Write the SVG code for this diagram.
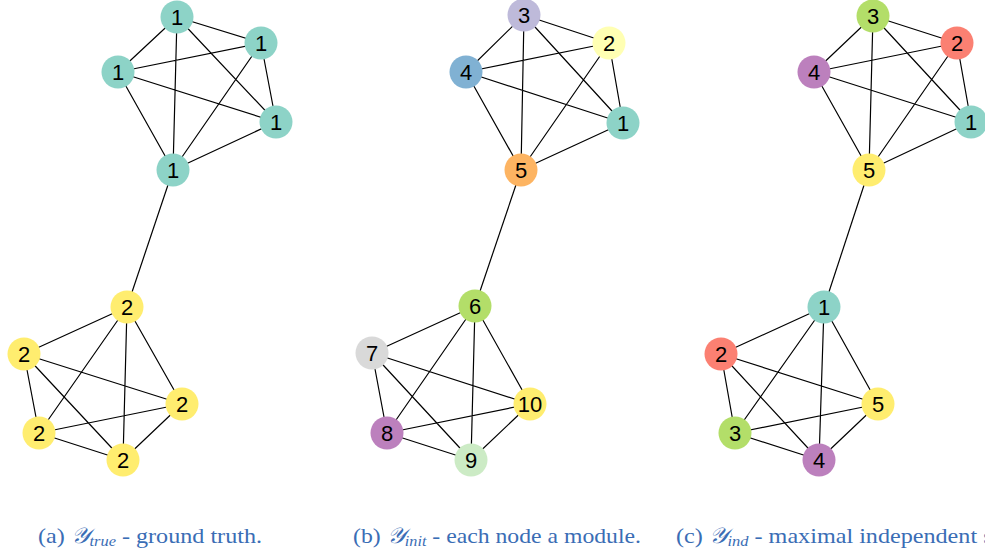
<svg xmlns="http://www.w3.org/2000/svg" width="985" height="553" viewBox="0 0 985 553">
<style>
.e{stroke:#000;stroke-width:1.2;fill:none}
.n text{font-family:"Liberation Sans",Arial,sans-serif;font-size:22px;text-anchor:middle;dominant-baseline:central;fill:#000}
.cap{font-family:"Liberation Serif","DejaVu Serif",serif;font-size:22px;fill:#3a6db5}
.sub{font-style:italic;font-size:15px}
</style>
<rect width="985" height="553" fill="#fff"/>
<g id="connectors" class="e">
<path d="M177,17L261,43M177,17L118,72M177,17L173,170M177,17L276,122M261,43L118,72M261,43L276,122M261,43L173,170M118,72L276,122M118,72L173,170M276,122L173,170"/>
<path d="M173,170L127,307"/>
<path d="M127,307L24,354M127,307L39,433M127,307L123,460M127,307L182,404M24,354L182,404M24,354L39,433M24,354L123,460M182,404L39,433M182,404L123,460M39,433L123,460"/>
<path d="M524,15L609,43M524,15L466,72M524,15L521,170M524,15L623,123M609,43L466,72M609,43L623,123M609,43L521,170M466,72L623,123M466,72L521,170M623,123L521,170"/>
<path d="M521,170L475,306"/>
<path d="M475,306L372,353M475,306L387,433M475,306L471,460M475,306L530,404M372,353L530,404M372,353L387,433M372,353L471,460M530,404L387,433M530,404L471,460M387,433L471,460"/>
<path d="M873,16L957,43M873,16L814,72M873,16L869,170M873,16L971,122M957,43L814,72M957,43L971,122M957,43L869,170M814,72L971,122M814,72L869,170M971,122L869,170"/>
<path d="M869,170L824,307"/>
<path d="M824,307L721,354M824,307L735,433M824,307L819,460M824,307L878,404M721,354L878,404M721,354L735,433M721,354L819,460M878,404L735,433M878,404L819,460M735,433L819,460"/>
</g>
<g id="a1" class="n"><circle cx="177" cy="17" r="16.5" fill="#8dd3c7"/><text x="177" y="17">1</text></g>
<g id="a2" class="n"><circle cx="261" cy="43" r="16.5" fill="#8dd3c7"/><text x="261" y="43">1</text></g>
<g id="a3" class="n"><circle cx="118" cy="72" r="16.5" fill="#8dd3c7"/><text x="118" y="72">1</text></g>
<g id="a4" class="n"><circle cx="276" cy="122" r="16.5" fill="#8dd3c7"/><text x="276" y="122">1</text></g>
<g id="a5" class="n"><circle cx="173" cy="170" r="16.5" fill="#8dd3c7"/><text x="173" y="170">1</text></g>
<g id="a6" class="n"><circle cx="127" cy="307" r="16.5" fill="#ffed6f"/><text x="127" y="307">2</text></g>
<g id="a7" class="n"><circle cx="24" cy="354" r="16.5" fill="#ffed6f"/><text x="24" y="354">2</text></g>
<g id="a8" class="n"><circle cx="182" cy="404" r="16.5" fill="#ffed6f"/><text x="182" y="404">2</text></g>
<g id="a9" class="n"><circle cx="39" cy="433" r="16.5" fill="#ffed6f"/><text x="39" y="433">2</text></g>
<g id="a10" class="n"><circle cx="123" cy="460" r="16.5" fill="#ffed6f"/><text x="123" y="460">2</text></g>

<g id="b3" class="n"><circle cx="524" cy="15" r="16.5" fill="#bebada"/><text x="524" y="15">3</text></g>
<g id="b2" class="n"><circle cx="609" cy="43" r="16.5" fill="#ffffb3"/><text x="609" y="43">2</text></g>
<g id="b4" class="n"><circle cx="466" cy="72" r="16.5" fill="#80b1d3"/><text x="466" y="72">4</text></g>
<g id="b1" class="n"><circle cx="623" cy="123" r="16.5" fill="#8dd3c7"/><text x="623" y="123">1</text></g>
<g id="b5" class="n"><circle cx="521" cy="170" r="16.5" fill="#fdb462"/><text x="521" y="170">5</text></g>
<g id="b6" class="n"><circle cx="475" cy="306" r="16.5" fill="#b3de69"/><text x="475" y="306">6</text></g>
<g id="b7" class="n"><circle cx="372" cy="353" r="16.5" fill="#d9d9d9"/><text x="372" y="353">7</text></g>
<g id="b10" class="n"><circle cx="530" cy="404" r="16.5" fill="#ffed6f"/><text x="530" y="404">10</text></g>
<g id="b8" class="n"><circle cx="387" cy="433" r="16.5" fill="#bc80bd"/><text x="387" y="433">8</text></g>
<g id="b9" class="n"><circle cx="471" cy="460" r="16.5" fill="#ccebc5"/><text x="471" y="460">9</text></g>

<g id="c3" class="n"><circle cx="873" cy="16" r="16.5" fill="#b3de69"/><text x="873" y="16">3</text></g>
<g id="c2" class="n"><circle cx="957" cy="43" r="16.5" fill="#fb8072"/><text x="957" y="43">2</text></g>
<g id="c4" class="n"><circle cx="814" cy="72" r="16.5" fill="#bc80bd"/><text x="814" y="72">4</text></g>
<g id="c1" class="n"><circle cx="971" cy="122" r="16.5" fill="#8dd3c7"/><text x="971" y="122">1</text></g>
<g id="c5" class="n"><circle cx="869" cy="170" r="16.5" fill="#ffed6f"/><text x="869" y="170">5</text></g>
<g id="c1b" class="n"><circle cx="824" cy="307" r="16.5" fill="#8dd3c7"/><text x="824" y="307">1</text></g>
<g id="c2b" class="n"><circle cx="721" cy="354" r="16.5" fill="#fb8072"/><text x="721" y="354">2</text></g>
<g id="c5b" class="n"><circle cx="878" cy="404" r="16.5" fill="#ffed6f"/><text x="878" y="404">5</text></g>
<g id="c3b" class="n"><circle cx="735" cy="433" r="16.5" fill="#b3de69"/><text x="735" y="433">3</text></g>
<g id="c4b" class="n"><circle cx="819" cy="460" r="16.5" fill="#bc80bd"/><text x="819" y="460">4</text></g>

<g id="captions" class="cap">
<text x="38" y="543" textLength="224" lengthAdjust="spacingAndGlyphs">(a) <tspan font-style="italic">𝒴</tspan><tspan class="sub" dy="3">true</tspan><tspan dy="-3"> - ground truth.</tspan></text>
<text x="353" y="543" textLength="288" lengthAdjust="spacingAndGlyphs">(b) <tspan font-style="italic">𝒴</tspan><tspan class="sub" dy="3">init</tspan><tspan dy="-3"> - each node a module.</tspan></text>
<text x="676" y="543" textLength="340" lengthAdjust="spacingAndGlyphs">(c) <tspan font-style="italic">𝒴</tspan><tspan class="sub" dy="3">ind</tspan><tspan dy="-3"> - maximal independent set.</tspan></text>
</g>
</svg>
